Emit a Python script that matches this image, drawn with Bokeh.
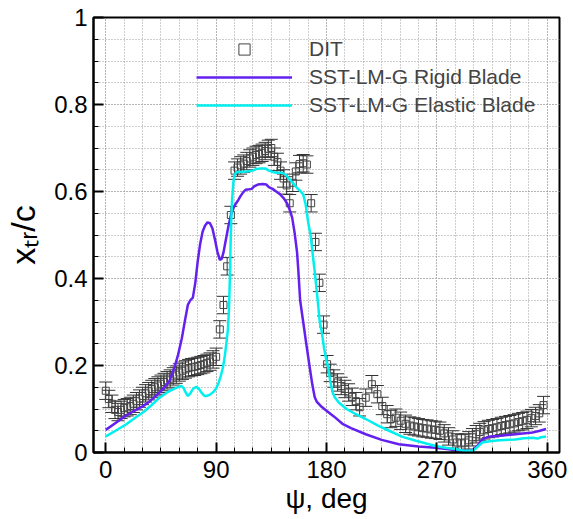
import numpy as np
from bokeh.plotting import figure
from bokeh.models import (ColumnDataSource, Whisker, TeeHead, Legend, LegendItem,
                          Range1d, FixedTicker)
from bokeh.embed import file_html
from bokeh.resources import INLINE

# ---------------- data ----------------
dit_psi = [0, 2.5, 5, 7.5, 10, 12.5, 15, 17.5, 20, 22.5, 25, 27.5, 30, 32.5, 35, 37.5,
           40, 42.5, 45, 47.5, 50, 52.5, 55, 57.5, 60, 62.5, 65, 67.5, 70, 72.5, 75, 77.5,
           80, 82.5, 85, 87.5, 90, 93, 96, 99, 102, 105, 107.5, 110, 112.5, 115, 117.5,
           120, 122.5, 125, 127.5, 130, 132.5, 135, 137.5, 140, 142.5, 145, 147.5, 150,
           152.5, 155, 158, 161, 164, 167.5, 171, 174.2, 177.6, 180.5, 183, 186, 189, 192,
           195, 198, 201, 204, 207, 212, 217, 221.5, 225.5, 229.5, 232.5, 236.5, 240.5,
           244.5, 248, 251.5, 255, 258.5, 262, 265.5, 269, 272.5, 276, 279.5, 283, 286.5,
           290, 293, 296, 299, 302, 305, 308.5, 312, 315.5, 319, 322.5, 326, 329.5, 333,
           336.5, 340, 343.5, 347, 350.5, 353.5, 357]
dit_xtr = [0.142, 0.123, 0.112, 0.098, 0.093, 0.098, 0.102, 0.104, 0.107, 0.112, 0.118,
           0.124, 0.130, 0.136, 0.141, 0.146, 0.150, 0.154, 0.158, 0.162, 0.166, 0.170,
           0.175, 0.179, 0.184, 0.188, 0.191, 0.194, 0.196, 0.197, 0.199, 0.201, 0.203,
           0.206, 0.209, 0.214, 0.220, 0.283, 0.339, 0.428, 0.546, 0.648, 0.655, 0.660,
           0.664, 0.670, 0.676, 0.680, 0.684, 0.686, 0.689, 0.693, 0.698, 0.700, 0.680,
           0.668, 0.648, 0.630, 0.614, 0.573, 0.620, 0.646, 0.663, 0.665, 0.662, 0.573,
           0.484, 0.390, 0.294, 0.203, 0.183, 0.170, 0.161, 0.153, 0.146, 0.138, 0.128,
           0.118, 0.104, 0.126, 0.157, 0.134, 0.107, 0.088, 0.077, 0.080, 0.073, 0.066,
           0.062, 0.060, 0.058, 0.056, 0.055, 0.053, 0.052, 0.050, 0.044, 0.037, 0.030,
           0.023, 0.021, 0.023, 0.028, 0.035, 0.042, 0.047, 0.051, 0.054, 0.056, 0.058,
           0.061, 0.063, 0.065, 0.067, 0.070, 0.072, 0.075, 0.079, 0.084, 0.090, 0.109]
dit_err = 0.02

rigid_psi = [0, 8, 16, 24, 30, 36, 42, 48, 52, 56, 59, 62, 65, 67, 69, 71, 73, 75, 77,
             79, 81, 83, 85, 87, 89, 91, 93, 94.5, 96, 98, 100, 102, 104, 106, 108, 110,
             112, 114, 117, 119, 121, 124, 128, 131, 133, 136, 139, 142, 145, 148, 150,
             152, 154, 156, 157, 158.5, 161, 163.5, 166.3, 168.5, 170.4, 172, 176, 180,
             186, 193, 200, 212, 225, 239, 255, 269, 285, 293, 299, 303, 307, 312, 320,
             334, 348, 354, 359]
rigid_xtr = [0.052, 0.068, 0.084, 0.097, 0.106, 0.118, 0.133, 0.150, 0.165, 0.195, 0.225,
             0.262, 0.310, 0.340, 0.350, 0.356, 0.390, 0.440, 0.480, 0.508, 0.522, 0.529,
             0.527, 0.515, 0.490, 0.462, 0.443, 0.445, 0.460, 0.490, 0.520, 0.545, 0.562,
             0.572, 0.580, 0.590, 0.598, 0.604, 0.605, 0.606, 0.612, 0.616, 0.617, 0.616,
             0.610, 0.606, 0.600, 0.594, 0.585, 0.572, 0.558, 0.540, 0.505, 0.460, 0.420,
             0.350, 0.300, 0.250, 0.196, 0.155, 0.127, 0.117, 0.105, 0.096, 0.083, 0.066,
             0.056, 0.042, 0.029, 0.019, 0.014, 0.011, 0.006, 0.004, 0.004, 0.015, 0.030,
             0.036, 0.038, 0.042, 0.046, 0.050, 0.054]

elastic_psi = [0, 8, 16.7, 24, 30.3, 37, 43.9, 50, 54.8, 58, 61.6, 63.5, 65.5, 67, 69, 71,
               73.8, 76, 78.5, 80.5, 82, 85, 88, 90, 92, 94, 95.5, 97, 98.5, 99.5, 100.5,
               101.2, 101.8, 102.3, 103, 104, 105, 106.5, 110, 115, 120, 123, 126, 130,
               133, 136, 139, 144, 147, 150, 153, 156, 159, 161, 163, 165, 167, 169, 171,
               172.8, 174.5, 176, 178, 180, 181.3, 183, 185, 186.7, 190, 196.3, 204, 212,
               222, 231, 242, 253, 262, 269, 277, 285, 292, 299, 302, 307, 313, 321, 334,
               341, 348, 352, 355, 359]
elastic_xtr = [0.037, 0.050, 0.065, 0.080, 0.092, 0.108, 0.126, 0.138, 0.145, 0.149,
               0.153, 0.148, 0.136, 0.130, 0.136, 0.146, 0.151, 0.146, 0.136, 0.130,
               0.130, 0.133, 0.140, 0.147, 0.160, 0.178, 0.195, 0.220, 0.255, 0.280,
               0.330, 0.400, 0.480, 0.530, 0.580, 0.620, 0.637, 0.645, 0.645, 0.646,
               0.648, 0.652, 0.653, 0.653, 0.648, 0.645, 0.643, 0.643, 0.638, 0.628,
               0.618, 0.608, 0.600, 0.593, 0.570, 0.530, 0.500, 0.450, 0.400, 0.350,
               0.300, 0.280, 0.240, 0.210, 0.196, 0.165, 0.138, 0.127, 0.115, 0.100,
               0.088, 0.077, 0.062, 0.050, 0.036, 0.027, 0.020, 0.015, 0.011, 0.008,
               0.004, 0.004, 0.010, 0.023, 0.026, 0.028, 0.030, 0.033, 0.034, 0.032,
               0.035, 0.037]

x_ticks = [0, 90, 180, 270, 360]
x_minor = list(range(0, 361, 15))
y_ticks = [0, 0.2, 0.4, 0.6, 0.8, 1.0]
y_minor = [round(0.05 * i, 2) for i in range(21)]

FONT = "Liberation Sans"
PURPLE = "#6420EE"
CYAN = "#00F0F0"

# ---------------- figure ----------------
p = figure(width=573, height=519, output_backend="svg", toolbar_location=None,
           x_range=Range1d(-10, 370), y_range=Range1d(0, 1),
           min_border_left=93, min_border_right=14, min_border_top=17,
           min_border_bottom=67)
p.background_fill_color = "white"
p.border_fill_color = "white"
p.outline_line_color = "black"
p.outline_line_width = 2

p.xaxis.ticker = FixedTicker(ticks=x_ticks, minor_ticks=x_minor)
p.yaxis.ticker = FixedTicker(ticks=y_ticks, minor_ticks=y_minor)
p.yaxis.major_label_overrides = {0: "0", 1: "1"}

for ax in (p.xaxis[0], p.yaxis[0]):
    ax.axis_line_width = 2
    ax.axis_line_color = "black"
    ax.major_tick_in = 10
    ax.major_tick_out = 0
    ax.major_tick_line_width = 2
    ax.minor_tick_in = 5
    ax.minor_tick_out = 0
    ax.minor_tick_line_width = 1
    ax.major_label_text_font = FONT
    ax.major_label_text_font_size = "24px"
    ax.major_label_text_color = "black"
    ax.axis_label_text_font = FONT
    ax.axis_label_text_font_style = "normal"
    ax.axis_label_text_color = "black"
p.xaxis.major_label_standoff = 8
p.yaxis.major_label_standoff = 6

p.xaxis.axis_label = "ψ, deg"
p.xaxis.axis_label_text_font_size = "28px"
p.xaxis.axis_label_standoff = 2
p.yaxis.axis_label = "xₜᵣ/c"
p.yaxis.axis_label_text_font_size = "34px"
p.yaxis.axis_label_standoff = 9

for g in (p.xgrid[0], p.ygrid[0]):
    g.grid_line_color = "#9c9c9c"
    g.grid_line_dash = "1 2"
    g.grid_line_width = 1
    g.minor_grid_line_color = "#9c9c9c"
    g.minor_grid_line_dash = "1 2"
    g.minor_grid_line_width = 1

# ---------------- data renderers ----------------
dit_src = ColumnDataSource(dict(
    psi=dit_psi, xtr=dit_xtr,
    upper=[v + dit_err for v in dit_xtr],
    lower=[v - dit_err for v in dit_xtr]))

wh = Whisker(source=dit_src, base="psi", upper="upper", lower="lower",
             dimension="height", line_color="#333333", line_width=1,
             upper_head=TeeHead(size=13, line_color="#333333", line_width=1),
             lower_head=TeeHead(size=13, line_color="#333333", line_width=1))
p.add_layout(wh)

sq = p.scatter("psi", "xtr", source=dit_src, marker="square", size=7,
               fill_color=None, line_color="#444444", line_width=1)

rl = p.line(rigid_psi, rigid_xtr, line_color=PURPLE, line_width=2.5)
el = p.line(elastic_psi, elastic_xtr, line_color=CYAN, line_width=2.5)

legend = Legend(items=[LegendItem(label="DIT", renderers=[sq]),
                       LegendItem(label="SST-LM-G Rigid Blade", renderers=[rl]),
                       LegendItem(label="SST-LM-G Elastic Blade", renderers=[el])],
                location=(103, 333), border_line_color=None,
                background_fill_alpha=0, label_text_font=FONT,
                label_text_font_size="21px", glyph_width=96, glyph_height=28,
                label_height=28, spacing=0, padding=0, margin=0,
                label_standoff=17)
p.add_layout(legend)

open("out.html", "w").write(file_html(p, INLINE))
